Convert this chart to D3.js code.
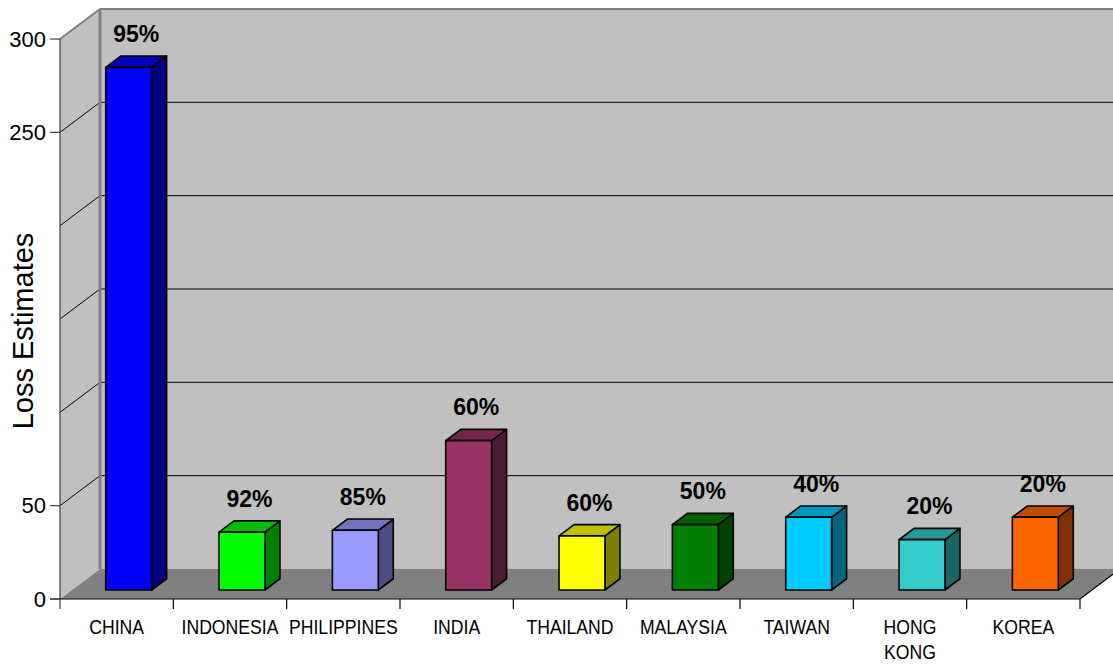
<!DOCTYPE html>
<html><head><meta charset="utf-8">
<script src="https://cdn.jsdelivr.net/npm/d3@7"></script>
<style>body{margin:0;background:#fff}svg{display:block}</style>
</head><body>
<svg id="chart" width="1113" height="664"></svg>
<script>
const categories = ["CHINA","INDONESIA","PHILIPPINES","INDIA","THAILAND","MALAYSIA","TAIWAN","HONG KONG","KOREA"];
const values = [280, 31, 32, 80, 29, 35, 39, 27, 39];
const pctLabels = ["95%","92%","85%","60%","60%","50%","40%","20%","20%"];
const yTicks = [0, 50, 100, 150, 200, 250, 300];
const yTickLabels = [0, 50, 250, 300];
const barColors = ["#0000FF","#00FF00","#9999FF","#993366","#FFFF00","#008000","#00CCFF","#33CCCC","#FF6600"];

const svg = d3.select("#chart");
const font = "'Liberation Sans', Arial, sans-serif";
const y = d3.scaleLinear().domain([0, 300]).range([599, 39]);
const x = d3.scaleBand().domain(categories).range([60, 1080]);
const DX = 40, DY = -30;          // wall depth
const bf = 0.3;                   // bar front depth fraction
const bd = 0.375;                 // bar depth fraction
const bw = x.bandwidth() * 0.405;

const y0 = y(0), yTop = y(300), xL = x.range()[0], xR = x.range()[1];
const pts = a => a.map(p => p.join(",")).join(" ");

// left wall
svg.append("polygon").attr("points", pts([[xL, y0], [xL, yTop], [xL + DX, yTop + DY], [xL + DX, y0 + DY]]))
  .attr("fill", "#c0c0c0");
// back wall
svg.append("polygon").attr("points", pts([[xL + DX, y0 + DY], [xL + DX, yTop + DY], [xR + DX, yTop + DY], [xR + DX, y0 + DY]]))
  .attr("fill", "#c0c0c0");
// floor
svg.append("polygon").attr("points", pts([[xL, y0], [xR, y0], [xR + DX, y0 + DY], [xL + DX, y0 + DY]]))
  .attr("fill", "#808080");

// gridlines
yTicks.filter(v => v > 0).forEach(v => {
  const c = v === 300 ? "#808080" : "#000";
  const w = v === 300 ? 2 : 1;
  svg.append("line").attr("x1", xL).attr("y1", y(v)).attr("x2", xL + DX).attr("y2", y(v) + DY)
    .attr("stroke", c).attr("stroke-width", w);
  svg.append("line").attr("x1", xL + DX).attr("y1", y(v) + DY).attr("x2", xR + DX + 10).attr("y2", y(v) + DY)
    .attr("stroke", c).attr("stroke-width", w);
});
// back corner edge
svg.append("line").attr("x1", xL + DX).attr("y1", yTop + DY).attr("x2", xL + DX).attr("y2", y0 + DY)
  .attr("stroke", "#808080").attr("stroke-width", 3);

// y axis line
svg.append("line").attr("x1", xL).attr("y1", yTop).attr("x2", xL).attr("y2", y0 + 10)
  .attr("stroke", "#404040").attr("stroke-width", 1.2);
// x axis front edge
svg.append("polyline").attr("points", pts([[xL - 10, y0], [xR, y0], [xR + DX, y0 + DY]]))
  .attr("fill", "none").attr("stroke", "#000").attr("stroke-width", 1.2);
// x ticks
[...categories.map(c => x(c)), xR].forEach(xx => {
  if (xx === xL) return;
  svg.append("line").attr("x1", xx).attr("y1", y0).attr("x2", xx).attr("y2", y0 + 10)
    .attr("stroke", "#000").attr("stroke-width", 1.2);
});
// y ticks + labels
yTickLabels.forEach(v => {
  svg.append("line").attr("x1", xL - 10).attr("y1", y(v)).attr("x2", xL).attr("y2", y(v))
    .attr("stroke", "#404040").attr("stroke-width", 1.2);
  svg.append("text").attr("x", xL - 14).attr("y", y(v)).attr("dy", "0.35em")
    .attr("text-anchor", "end").attr("font-family", font).attr("font-size", 22).text(v);
});

// y title
svg.append("text").attr("transform", "translate(33,331) rotate(-90)")
  .attr("text-anchor", "middle").attr("font-family", font).attr("font-size", 29).text("Loss Estimates");

// bars
const ox = DX * bf, oy = DY * bf, dx = DX * bd, dy = DY * bd;
categories.forEach((c, i) => {
  const col = d3.color(barColors[i]);
  const side = d3.rgb(col.r * 0.5, col.g * 0.5, col.b * 0.5).formatHex();
  const cx = x(c) + x.bandwidth() / 2 + ox;
  const l = cx - bw / 2, r = cx + bw / 2;
  const yb = y(0) + oy, yt = y(values[i]) + oy;
  const g = svg.append("g").attr("stroke", "#000").attr("stroke-width", 1.6).attr("stroke-linejoin", "round");
  g.append("polygon").attr("points", pts([[r, yb], [r, yt], [r + dx, yt + dy], [r + dx, yb + dy]])).attr("fill", side);
  g.append("polygon").attr("points", pts([[l, yt], [r, yt], [r + dx, yt + dy], [l + dx, yt + dy]]))
    .attr("fill", d3.rgb(col.r * 0.75, col.g * 0.75, col.b * 0.75).formatHex());
  g.append("rect").attr("x", l).attr("y", yt).attr("width", bw).attr("height", yb - yt).attr("fill", barColors[i]);
  svg.append("text").attr("x", cx + dx / 2).attr("y", yt + dy - 14)
    .attr("text-anchor", "middle").attr("font-family", font).attr("font-weight", "bold")
    .attr("font-size", 23).text(pctLabels[i]);
});

// category labels
categories.forEach(c => {
  const cx = x(c) + x.bandwidth() / 2;
  const t = svg.append("text").attr("transform", `translate(${cx},634) scale(0.84,1)`)
    .attr("text-anchor", "middle").attr("font-family", font).attr("font-size", 21);
  c.split(" ").forEach((w, k) => t.append("tspan").attr("x", 0).attr("dy", k ? 25 : 0).text(w));
});
</script>
</body></html>
